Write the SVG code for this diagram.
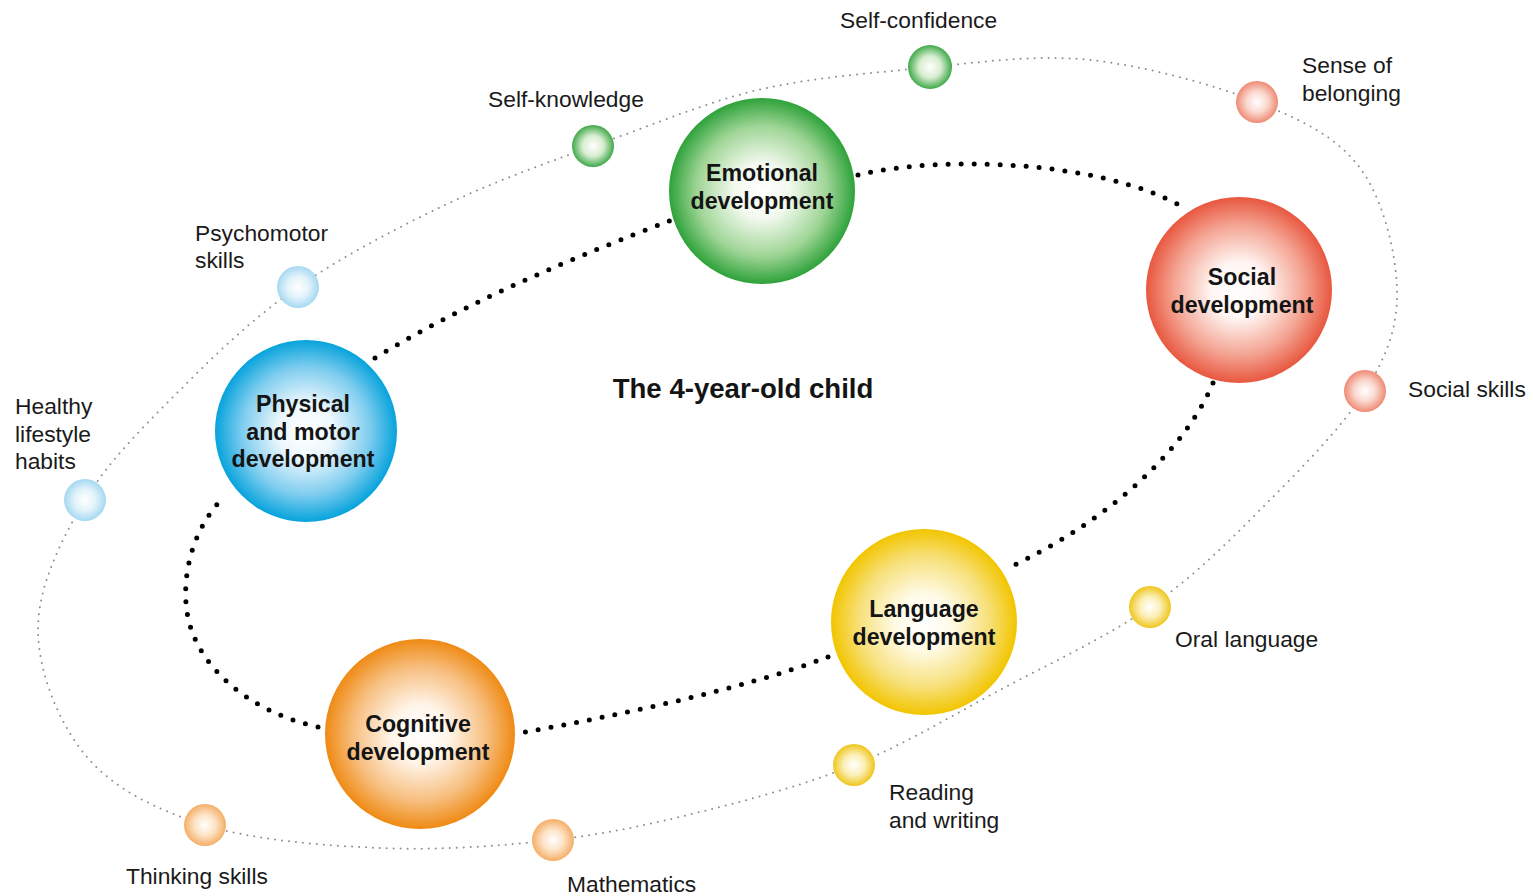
<svg xmlns="http://www.w3.org/2000/svg" width="1533" height="896" viewBox="0 0 1533 896">
<defs>
<radialGradient id="gGreen"><stop offset="0" stop-color="#ffffff"/><stop offset="0.3" stop-color="#f2f9ee"/><stop offset="0.7" stop-color="#9fd596"/><stop offset="1" stop-color="#2ea23a"/></radialGradient>
<radialGradient id="gRed"><stop offset="0" stop-color="#ffffff"/><stop offset="0.3" stop-color="#fff6f3"/><stop offset="0.7" stop-color="#f4a493"/><stop offset="1" stop-color="#e8573f"/></radialGradient>
<radialGradient id="gBlue"><stop offset="0" stop-color="#ffffff"/><stop offset="0.3" stop-color="#eef8fd"/><stop offset="0.7" stop-color="#7fcdef"/><stop offset="1" stop-color="#06a3dc"/></radialGradient>
<radialGradient id="gYellow"><stop offset="0" stop-color="#ffffff"/><stop offset="0.3" stop-color="#fffbe8"/><stop offset="0.7" stop-color="#f7e07a"/><stop offset="1" stop-color="#f2c500"/></radialGradient>
<radialGradient id="gOrange"><stop offset="0" stop-color="#ffffff"/><stop offset="0.3" stop-color="#fff5ea"/><stop offset="0.7" stop-color="#f7bf80"/><stop offset="1" stop-color="#ef8a14"/></radialGradient>
<radialGradient id="sGreen"><stop offset="0" stop-color="#ffffff"/><stop offset="0.5" stop-color="#d8edd0"/><stop offset="1" stop-color="#3fa94a"/></radialGradient>
<radialGradient id="sRed"><stop offset="0" stop-color="#ffffff"/><stop offset="0.5" stop-color="#fad8cf"/><stop offset="1" stop-color="#ee8a74"/></radialGradient>
<radialGradient id="sBlue"><stop offset="0" stop-color="#ffffff"/><stop offset="0.5" stop-color="#e3f3fb"/><stop offset="1" stop-color="#a6d8f1"/></radialGradient>
<radialGradient id="sYellow"><stop offset="0" stop-color="#ffffff"/><stop offset="0.5" stop-color="#fbefb6"/><stop offset="1" stop-color="#efc61c"/></radialGradient>
<radialGradient id="sOrange"><stop offset="0" stop-color="#ffffff"/><stop offset="0.5" stop-color="#fde3c6"/><stop offset="1" stop-color="#f4ae66"/></radialGradient>
<style>
.outer{fill:none;stroke:#8c8c8c;stroke-width:2;stroke-dasharray:0 7;stroke-linecap:round}
.inner{fill:none;stroke:#000;stroke-width:5;stroke-dasharray:0 13;stroke-linecap:round}
.big{font-family:"Liberation Sans",Arial,sans-serif;font-weight:bold;font-size:23.2px;fill:#141414;text-anchor:middle}
.lbl{font-family:"Liberation Sans",Arial,sans-serif;font-size:22.8px;fill:#1a1a1a}
.title{font-family:"Liberation Sans",Arial,sans-serif;font-weight:bold;font-size:27.6px;fill:#141414;text-anchor:middle}
</style>
</defs>
<rect width="1533" height="896" fill="#ffffff"/>
<g id="connectors">
<path id="outer-ring" class="outer" d="M930,67 C985.3,62 1035.5,54.2 1090,60 C1144.5,65.8 1212,84 1257,102 C1302,120 1336.7,136.7 1360,168 C1383.3,199.3 1396.2,252.8 1397,290 C1397.8,327.2 1387.5,354.7 1365,391 C1342.5,427.3 1297.8,472 1262,508 C1226.2,544 1193.7,576.7 1150,607 C1106.3,637.3 1049.3,663.7 1000,690 C950.7,716.3 904,744.7 854,765 C804,785.3 750.2,799.5 700,812 C649.8,824.5 606.3,834 553,840 C499.7,846 438,850.5 380,848 C322,845.5 253.8,840.2 205,825 C156.2,809.8 114.8,789.5 87,757 C59.2,724.5 38.3,672.8 38,630 C37.7,587.2 60.5,540.8 85,500 C109.5,459.2 149.5,420.5 185,385 C220.5,349.5 254.7,317 298,287 C341.3,257 395.8,228.5 445,205 C494.2,181.5 540.8,165.2 593,146 C645.5,128 701.8,103.2 758,90 C814.2,76.8 875,73.2 930,67 Z"/>
<path id="c-emotional-social" class="inner" d="M858,175 C940,155 1100,160 1183,207"/>
<path id="c-social-language" class="inner" d="M1213,383 C1185,450 1110,520 1010,567"/>
<path id="c-language-cognitive" class="inner" d="M828,657 C740,690 620,715 520,733"/>
<path id="c-cognitive-physical" class="inner" d="M318,727 C250,712 190,665 186,603 C183,560 200,520 225,496"/>
<path id="c-physical-emotional" class="inner" d="M375,358 C470,300 580,255 672,220"/>
</g>
<g id="title"><text class="title" x="743" y="398">The 4-year-old child</text></g>
<g id="emotional"><circle cx="762" cy="191" r="93" fill="url(#gGreen)"/><text class="big" x="762" y="181">Emotional</text><text class="big" x="762" y="209">development</text></g>
<g id="social"><circle cx="1239" cy="290" r="93" fill="url(#gRed)"/><text class="big" x="1242" y="285">Social</text><text class="big" x="1242" y="313">development</text></g>
<g id="physical"><circle cx="306" cy="431" r="91" fill="url(#gBlue)"/><text class="big" x="303" y="412">Physical</text><text class="big" x="303" y="440">and motor</text><text class="big" x="303" y="467">development</text></g>
<g id="language"><circle cx="924" cy="622" r="93" fill="url(#gYellow)"/><text class="big" x="924" y="617">Language</text><text class="big" x="924" y="645">development</text></g>
<g id="cognitive"><circle cx="420" cy="734" r="95" fill="url(#gOrange)"/><text class="big" x="418" y="732">Cognitive</text><text class="big" x="418" y="760">development</text></g>
<g id="self-confidence"><circle cx="930" cy="67" r="22" fill="url(#sGreen)"/><text class="lbl" x="840" y="28">Self-confidence</text></g>
<g id="self-knowledge"><circle cx="593" cy="146" r="21" fill="url(#sGreen)"/><text class="lbl" x="488" y="107">Self-knowledge</text></g>
<g id="sense-of-belonging"><circle cx="1257" cy="102" r="21" fill="url(#sRed)"/><text class="lbl" x="1302" y="73">Sense of</text><text class="lbl" x="1302" y="101">belonging</text></g>
<g id="social-skills"><circle cx="1365" cy="391" r="21" fill="url(#sRed)"/><text class="lbl" x="1408" y="397">Social skills</text></g>
<g id="psychomotor-skills"><circle cx="298" cy="287" r="21" fill="url(#sBlue)"/><text class="lbl" x="195" y="241">Psychomotor</text><text class="lbl" x="195" y="268">skills</text></g>
<g id="healthy-lifestyle-habits"><circle cx="85" cy="500" r="21" fill="url(#sBlue)"/><text class="lbl" x="15" y="414">Healthy</text><text class="lbl" x="15" y="442">lifestyle</text><text class="lbl" x="15" y="469">habits</text></g>
<g id="oral-language"><circle cx="1150" cy="607" r="21" fill="url(#sYellow)"/><text class="lbl" x="1175" y="647">Oral language</text></g>
<g id="reading-writing"><circle cx="854" cy="765" r="21" fill="url(#sYellow)"/><text class="lbl" x="889" y="800">Reading</text><text class="lbl" x="889" y="828">and writing</text></g>
<g id="mathematics"><circle cx="553" cy="840" r="21" fill="url(#sOrange)"/><text class="lbl" x="567" y="892">Mathematics</text></g>
<g id="thinking-skills"><circle cx="205" cy="825" r="21" fill="url(#sOrange)"/><text class="lbl" x="126" y="884">Thinking skills</text></g>
</svg>
